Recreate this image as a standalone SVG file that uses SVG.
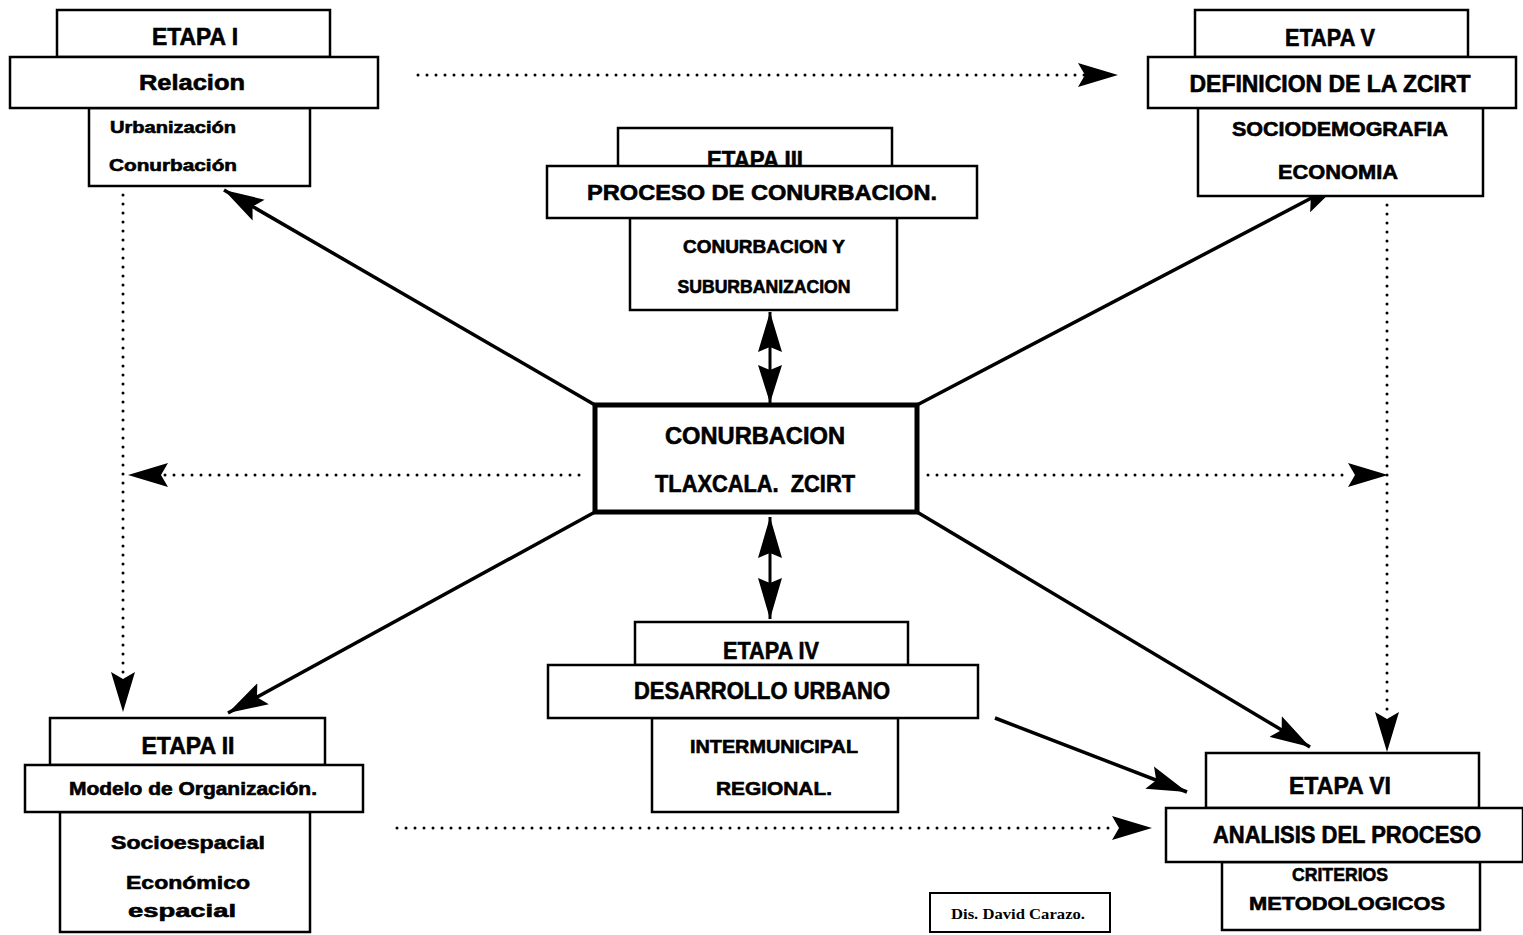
<svg xmlns="http://www.w3.org/2000/svg" width="1523" height="935" viewBox="0 0 1523 935">
<style>
.box{fill:#fff;stroke:#000;stroke-width:2.5}
.ctr{fill:#fff;stroke:#000;stroke-width:5}
.t{font-family:"Liberation Sans",Arial,sans-serif;font-weight:bold;fill:#000;stroke:#000;stroke-width:0.6;text-anchor:middle}
.s{font-family:"Liberation Serif","Times New Roman",serif;font-weight:bold;fill:#000;text-anchor:middle}
.dot{fill:none;stroke:#000;stroke-width:3;stroke-dasharray:0 9;stroke-linecap:round}
.sol{fill:none;stroke:#000;stroke-width:3.5}
.hd{fill:#000}
</style>
<defs>
<marker id="ah" markerUnits="userSpaceOnUse" markerWidth="44" markerHeight="28" refX="40" refY="14" orient="auto">
<path d="M0,2 L40,14 L0,26 L7,14 Z" fill="#000"/>
</marker>
<marker id="ahs" markerUnits="userSpaceOnUse" markerWidth="44" markerHeight="28" refX="0" refY="14" orient="auto">
<path d="M40,2 L0,14 L40,26 L33,14 Z" fill="#000"/>
</marker>
</defs>

<g id="connectors">
<line class="dot" x1="418" y1="75" x2="1085" y2="75"/>
<path class="hd" d="M1078,63 L1118,75 L1078,87 L1085,75 Z"/>
<line class="dot" x1="123" y1="195" x2="123" y2="675"/>
<path class="hd" d="M111,672 L123,712 L135,672 L123,679 Z"/>
<line class="dot" x1="165" y1="475" x2="588" y2="475"/>
<path class="hd" d="M168,463 L128,475 L168,487 L161,475 Z"/>
<line class="dot" x1="928" y1="475" x2="1350" y2="475"/>
<path class="hd" d="M1348,463 L1388,475 L1348,487 L1355,475 Z"/>
<line class="dot" x1="1387" y1="205" x2="1387" y2="715"/>
<path class="hd" d="M1375,712 L1387,752 L1399,712 L1387,719 Z"/>
<line class="dot" x1="397" y1="828" x2="1115" y2="828"/>
<path class="hd" d="M1112,816 L1152,828 L1112,840 L1119,828 Z"/>
<line class="sol" x1="595" y1="405" x2="224" y2="190" marker-end="url(#ah)"/>
<line class="sol" x1="917" y1="405" x2="1340" y2="183" marker-end="url(#ah)"/>
<line class="sol" x1="595" y1="512" x2="228" y2="713" marker-end="url(#ah)"/>
<line class="sol" x1="917" y1="512" x2="1310" y2="747" marker-end="url(#ah)"/>
<line class="sol" x1="995" y1="718" x2="1187" y2="792" marker-end="url(#ah)"/>
<line x1="770" y1="312" x2="770" y2="403" stroke="#000" stroke-width="3"/>
<path class="hd" d="M770,312 L782,352 L770,347 L758,352 Z"/>
<path class="hd" d="M770,403 L782,365 L770,370 L758,365 Z"/>
<line x1="770" y1="517" x2="770" y2="619" stroke="#000" stroke-width="3"/>
<path class="hd" d="M770,517 L782,558 L770,553 L758,558 Z"/>
<path class="hd" d="M770,619 L782,578 L770,583 L758,578 Z"/>
</g>

<g id="etapa1">
<rect class="box" x="57" y="10" width="273" height="47"/>
<text class="t" x="195" y="45" font-size="24" textLength="86" lengthAdjust="spacingAndGlyphs">ETAPA I</text>
<rect class="box" x="89" y="108" width="221" height="78"/>
<rect class="box" x="10" y="57" width="368" height="51"/>
<text class="t" x="192" y="90" font-size="22" textLength="106" lengthAdjust="spacingAndGlyphs">Relacion</text>
<text class="t" x="173" y="133" font-size="17" textLength="126" lengthAdjust="spacingAndGlyphs">Urbanización</text>
<text class="t" x="173" y="171" font-size="17" textLength="128" lengthAdjust="spacingAndGlyphs">Conurbación</text>
</g>

<g id="etapa5">
<rect class="box" x="1195" y="10" width="273" height="47"/>
<text class="t" x="1330" y="46" font-size="24" textLength="90" lengthAdjust="spacingAndGlyphs">ETAPA V</text>
<rect class="box" x="1198" y="108" width="285" height="88"/>
<rect class="box" x="1148" y="57" width="368" height="51"/>
<text class="t" x="1330" y="92" font-size="23" textLength="281" lengthAdjust="spacingAndGlyphs">DEFINICION DE LA ZCIRT</text>
<text class="t" x="1340" y="136" font-size="20" textLength="216" lengthAdjust="spacingAndGlyphs">SOCIODEMOGRAFIA</text>
<text class="t" x="1338" y="179" font-size="20" textLength="120" lengthAdjust="spacingAndGlyphs">ECONOMIA</text>
</g>

<g id="etapa3">
<rect class="box" x="618" y="128" width="274" height="40"/>
<text class="t" x="755" y="168" font-size="24" textLength="96" lengthAdjust="spacingAndGlyphs">ETAPA III</text>
<rect class="box" x="630" y="218" width="267" height="92"/>
<rect class="box" x="547" y="166" width="430" height="52"/>
<text class="t" x="762" y="200" font-size="22" textLength="350" lengthAdjust="spacingAndGlyphs">PROCESO DE CONURBACION.</text>
<text class="t" x="764" y="253" font-size="18" textLength="162" lengthAdjust="spacingAndGlyphs">CONURBACION Y</text>
<text class="t" x="764" y="293" font-size="18" textLength="173" lengthAdjust="spacingAndGlyphs">SUBURBANIZACION</text>
</g>

<g id="center">
<rect class="ctr" x="595" y="405" width="322" height="107"/>
<text class="t" x="755" y="444" font-size="24" textLength="180" lengthAdjust="spacingAndGlyphs">CONURBACION</text>
<text class="t" x="755" y="492" font-size="23" textLength="200" lengthAdjust="spacingAndGlyphs" xml:space="preserve">TLAXCALA.  ZCIRT</text>
</g>

<g id="etapa4">
<rect class="box" x="635" y="622" width="273" height="43"/>
<text class="t" x="771" y="659" font-size="24" textLength="96" lengthAdjust="spacingAndGlyphs">ETAPA IV</text>
<rect class="box" x="652" y="718" width="246" height="94"/>
<rect class="box" x="548" y="665" width="430" height="53"/>
<text class="t" x="762" y="699" font-size="23" textLength="256" lengthAdjust="spacingAndGlyphs">DESARROLLO URBANO</text>
<text class="t" x="774" y="753" font-size="19" textLength="168" lengthAdjust="spacingAndGlyphs">INTERMUNICIPAL</text>
<text class="t" x="774" y="795" font-size="19" textLength="116" lengthAdjust="spacingAndGlyphs">REGIONAL.</text>
</g>

<g id="etapa2">
<rect class="box" x="50" y="718" width="275" height="47"/>
<text class="t" x="188" y="754" font-size="24" textLength="93" lengthAdjust="spacingAndGlyphs">ETAPA II</text>
<rect class="box" x="60" y="812" width="250" height="120"/>
<rect class="box" x="25" y="765" width="338" height="47"/>
<text class="t" x="193" y="795" font-size="18" textLength="248" lengthAdjust="spacingAndGlyphs">Modelo de Organización.</text>
<text class="t" x="188" y="849" font-size="19" textLength="154" lengthAdjust="spacingAndGlyphs">Socioespacial</text>
<text class="t" x="188" y="889" font-size="19" textLength="124" lengthAdjust="spacingAndGlyphs">Económico</text>
<text class="t" x="182" y="917" font-size="19" textLength="108" lengthAdjust="spacingAndGlyphs">espacial</text>
</g>

<g id="etapa6">
<rect class="box" x="1206" y="753" width="273" height="55"/>
<text class="t" x="1340" y="794" font-size="24" textLength="102" lengthAdjust="spacingAndGlyphs">ETAPA VI</text>
<rect class="box" x="1222" y="862" width="258" height="68"/>
<rect class="box" x="1166" y="808" width="357" height="54"/>
<text class="t" x="1347" y="843" font-size="23" textLength="268" lengthAdjust="spacingAndGlyphs">ANALISIS DEL PROCESO</text>
<text class="t" x="1340" y="881" font-size="19" textLength="96" lengthAdjust="spacingAndGlyphs">CRITERIOS</text>
<text class="t" x="1347" y="910" font-size="19" textLength="196" lengthAdjust="spacingAndGlyphs">METODOLOGICOS</text>
</g>

<g id="signature">
<rect x="930" y="893" width="180" height="39" fill="#fff" stroke="#000" stroke-width="2"/>
<text class="s" x="1018" y="919" font-size="15" textLength="134" lengthAdjust="spacingAndGlyphs">Dis. David Carazo.</text>
</g>
</svg>
